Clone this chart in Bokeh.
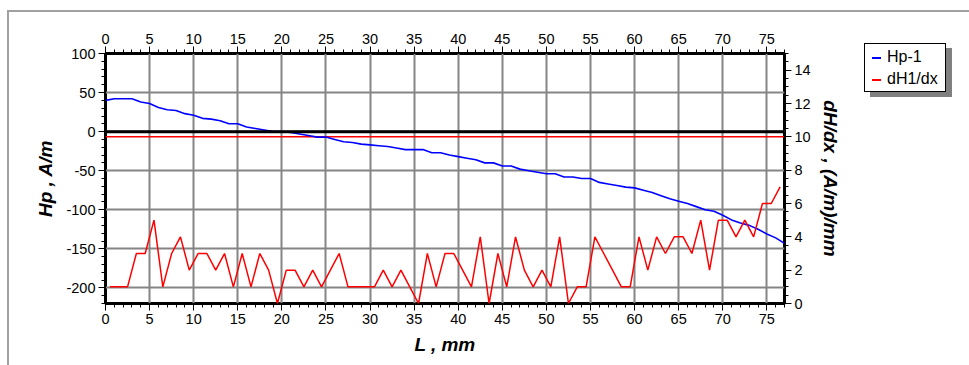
from bokeh.plotting import figure
from bokeh.layouts import row
from bokeh.models import (Range1d, LinearAxis, SingleIntervalTicker, Span, Div,
                          NumeralTickFormatter)
from bokeh.embed import file_html
from bokeh.resources import INLINE

# ---- data ----
hp_x = list(range(0, 78))
hp_values = [40, 42, 42, 42, 38, 36, 31, 28, 27, 23, 21, 17, 16, 14, 10, 10, 6, 4, 2, 0,
             0, -1, -3, -5, -7, -7, -10, -13, -14, -16, -17, -18, -19, -21, -23, -23, -23, -27, -27, -30,
             -32, -34, -36, -40, -40, -44, -44, -48, -50, -52, -54, -54, -58, -58, -60, -60, -65, -67, -69, -71,
             -72, -75, -78, -82, -86, -89, -92, -96, -100, -102, -107, -113, -117, -120, -125, -131, -136, -143]
dh_x = [i + 0.5 for i in range(0, 77)]
dh_values = [1, 1, 1, 3, 3, 5, 1, 3, 4, 2, 3, 3, 2, 3, 1, 3, 1, 3, 2, 0,
             2, 2, 1, 2, 1, 2, 3, 1, 1, 1, 1, 2, 1, 2, 1, 0, 3, 1, 3, 3,
             2, 1, 4, 0, 3, 1, 4, 2, 1, 2, 1, 4, 0, 1, 1, 4, 3, 2, 1, 1,
             4, 2, 4, 3, 4, 4, 3, 5, 2, 5, 5, 4, 5, 4, 6, 6, 7]
threshold_x = [0, 77]
threshold_values = [10, 10]
zero_level = 0

series_names = ["Hp-1", "dH1/dx"]
series_colors = ["#0000ff", "#ff0000"]
x_label = "L , mm"
y_label = "Hp , A/m"
y2_label = "dH/dx , (A/m)/mm"

FONT = "Liberation Sans"

# ---- main chart ----
p = figure(width=851, height=353, output_backend="svg", toolbar_location=None,
           x_range=Range1d(0, 77), y_range=Range1d(-220, 100),
           min_border_left=96, min_border_top=41, min_border_right=76, min_border_bottom=62,
           x_axis_location=None, y_axis_location=None)
p.extra_y_ranges = {"right": Range1d(0, 15)}
p.outline_line_color = "black"
p.outline_line_width = 3
p.background_fill_color = "white"
p.border_fill_color = "white"

xt = SingleIntervalTicker(interval=5, num_minor_ticks=5)
yt = SingleIntervalTicker(interval=50, num_minor_ticks=5)
y2t = SingleIntervalTicker(interval=2, num_minor_ticks=4)


def style_axis(ax, label=None):
    ax.axis_line_color = None
    ax.major_tick_line_color = "black"
    ax.minor_tick_line_color = "black"
    ax.major_tick_line_width = 1
    ax.minor_tick_line_width = 1
    ax.major_tick_in = 0
    ax.minor_tick_in = 0
    ax.major_tick_out = 7
    ax.minor_tick_out = 4
    ax.major_label_text_font = FONT
    ax.major_label_text_font_size = "14.5px"
    ax.major_label_text_color = "black"
    ax.major_label_standoff = 3
    ax.formatter = NumeralTickFormatter(format="0")
    if label:
        ax.axis_label = label
        ax.axis_label_text_font = FONT
        ax.axis_label_text_font_size = "19px"
        ax.axis_label_text_font_style = "bold italic"
        ax.axis_label_text_color = "black"


xb = LinearAxis(ticker=xt)
style_axis(xb, x_label)
xb.axis_label_standoff = 7
p.add_layout(xb, "below")

xa = LinearAxis(ticker=xt)
style_axis(xa)
p.add_layout(xa, "above")

yl = LinearAxis(ticker=yt)
style_axis(yl, y_label)
yl.axis_label_standoff = 7
p.add_layout(yl, "left")

yr = LinearAxis(ticker=y2t, y_range_name="right")
style_axis(yr, y2_label)
yr.axis_label_standoff = 6
p.add_layout(yr, "right")

p.xgrid.ticker = xt
p.ygrid.ticker = yt
for g in (p.xgrid, p.ygrid):
    g.grid_line_color = "#858585"
    g.grid_line_width = 2

p.add_layout(Span(location=zero_level, dimension="width", line_color="black", line_width=3))

p.line(threshold_x, threshold_values, y_range_name="right", line_color="red", line_width=1.5)
p.line(hp_x, hp_values, line_color=series_colors[0], line_width=1.6)
p.line(dh_x, dh_values, y_range_name="right", line_color=series_colors[1], line_width=1.5)

# ---- legend (HTML box with drop shadow) ----
entries = "".join(
    f'<div style="height:22px;line-height:22px;white-space:nowrap;">'
    f'<span style="display:inline-block;width:9px;height:2px;background:{c};'
    f'vertical-align:middle;margin-right:6px;"></span>{n}</div>'
    for n, c in zip(series_names, series_colors)
)
legend_html = (
    f'<div style="box-sizing:border-box;margin:31px 0 0 4px;width:82px;height:49px;'
    f'padding:2px 0 0 7px;border:1px solid #000;background:#fff;box-shadow:6px 5px 0 #808080;'
    f'font-family:\'{FONT}\';font-size:16px;color:#000;">{entries}</div>'
)
leg = Div(text=legend_html, width=109, height=353, margin=0)

layout = row(p, leg, spacing=0)
layout.margin = (10, 0, 0, 7)
layout.styles = {"border-left": "2px solid #a0a0a0", "border-top": "2px solid #a0a0a0"}

open("out.html", "w").write(file_html(layout, INLINE))
